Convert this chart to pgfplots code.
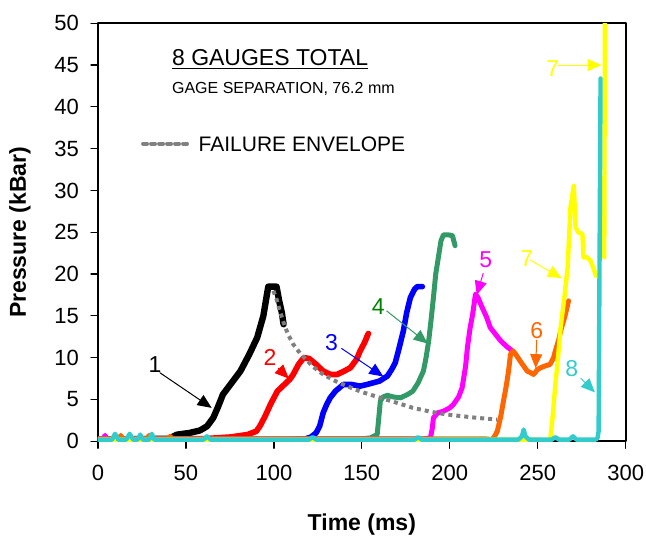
\documentclass[border=0pt]{standalone}
\usepackage{fontspec}
\setmainfont{Liberation Sans}
\usepackage{pgfplots}
\pgfplotsset{compat=1.18}
\usetikzlibrary{arrows.meta}

\definecolor{gR}{RGB}{255,0,0}
\definecolor{gB}{RGB}{0,0,255}
\definecolor{gG}{RGB}{51,153,102}
\definecolor{gGt}{RGB}{0,128,0}
\definecolor{gM}{RGB}{255,0,255}
\definecolor{gO}{RGB}{255,102,0}
\definecolor{gY}{RGB}{255,255,0}
\definecolor{gC}{RGB}{51,204,204}
\definecolor{gGrey}{RGB}{128,128,128}

\begin{document}
\begin{tikzpicture}
\begin{axis}[
    scale only axis,
    width=263.85pt, height=209pt,
    xmin=0, xmax=300, ymin=0, ymax=50,
    xtick={0,50,...,300}, ytick={0,5,...,50},
    tick align=outside, major tick length=3.5pt,
    xtick pos=left, ytick pos=left,
    axis line style={line width=1.2pt},
    every tick/.style={black, line width=0.6pt},
    /pgf/number format/assume math mode=true,
    ticklabel style={font=\fontsize{11}{13}\selectfont},
    xticklabel style={yshift=-5pt},
    yticklabel style={xshift=-2.5pt},
    xlabel={\textbf{Time (ms)}},
    ylabel={\textbf{Pressure (kBar)}},
    label style={font=\fontsize{11.5}{13}\selectfont},
    xlabel style={at={(axis description cs:0.5,-0.2)}, anchor=center},
    ylabel style={at={(axis description cs:-0.148,0.5)}, anchor=center},
    line join=round, line cap=round,
]
% gauge 1
\addplot[black, line width=3.2pt] coordinates {
 (0,0.2)(40,0.3)(45,0.8)(52,1.0)(58,1.3)(62,1.8)(65.5,2.8)(68,4)(71,5.6)(76,7)
 (81,8.4)(86,10.4)(90.5,12.4)(94,15)(96.8,18.5)(101.5,18.5)(103,16.8)(104.5,15.4)(105.5,14)};
% gauge 2
\addplot[gR, line width=2.9pt] coordinates {
 (0,0.2)(60,0.3)(75,0.5)(85,0.8)(90,1.2)(92,1.8)(95,3)(98,4.4)(102,6)(106,6.8)
 (109,7.4)(111,8)(114,9.2)(117,10)(120,9.9)(124,9.2)(128,8.4)(132,8)(136,8)(140,8.4)
 (143.5,8.8)(147,9.8)(149,10.8)(151.5,11.8)(153.7,12.9)};
% gauge 3
\addplot[gB, line width=2.8pt] coordinates {
 (0,0.2)(110,0.2)(118,0.3)(121,0.5)(124,1)(126,1.8)(128,3.4)(130,4.4)(132,5.2)(135,6)
 (139.5,6.8)(144,6.8)(149,6.6)(153,6.8)(156.5,7)(160,7.2)(164.5,7.8)(167,8.6)(169,9.4)
 (171,11)(173.6,13.2)(175.5,15.4)(177.6,17.2)(180,18.2)(181.5,18.5)(184.4,18.5)};
% gauge 4
\addplot[gG, line width=2.5pt] coordinates {
 (0,0.2)(150,0.3)(154.8,0.4)(158.7,0.8)(159.5,2.5)(160.5,4.8)(162,5.3)(164.5,5.5)
 (168,5.3)(172,5.2)(176,5.6)(179,6)(182,7)(185,8.4)(186.5,10)(188,12)(189.5,14.8)
 (190.7,17.2)(192,20)(193.5,22)(195,24)(196.4,24.7)(199,24.7)(201.5,24.6)(203,23.4)};
% gauge 5
\addplot[gM, line width=2.5pt] coordinates {
 (0,0.3)(3,0.3)(4,0.7)(5,0.3)(185,0.3)(189,0.4)(190,1.5)(190.7,2.8)(193,3.4)(196.4,3.6)
 (200,4)(202,4.4)(205,5.3)(207,6.4)(209,9)(210,11.2)(211.5,13.5)(213,15.2)(214.6,17.6)
 (216,17.2)(218,16.2)(221,14.8)(223,13.6)(226,12.8)(229,12)(232,11.4)(235.6,10.8)};
% gauge 6
\addplot[gO, line width=2.5pt] coordinates {
 (0,0.3)(12,0.3)(13,0.7)(14,0.3)(28,0.3)(29,0.7)(30,0.3)(40,0.3)(41,0.6)(42,0.3)
 (220,0.3)(224,0.2)(225.5,0.6)(227,1.2)(229,3)(230.5,4.8)(232,6.5)(233.4,8.4)(234.5,10.4)
 (236,10.8)(237.5,10.4)(240,9.6)(242,9)(244,8.4)(246,8.2)(247.6,8)(250,8.6)(251.6,8.8)
 (254,9)(257,9.2)(259,10)(260,10.8)(262,12.2)(263,13.2)(265.5,15)(267.5,16.8)};
% gauge 7
\addplot[gY, line width=2.2pt] coordinates {
 (0,0.2)(250,0.2)(257,0)(258.5,3)(260,6.8)(261.5,10)(263,13.6)(265,17)(267,20.8)
 (268.6,28)(270.5,30.6)(271.5,25.6)(273,25)(275.4,24.8)(276,22)(278,22)(280,21.6)
 (282,20.5)(283,19.8)};
\addplot[gY, line width=2.2pt] coordinates {(287.8,22)(288.2,55)};
% gauge 8
\addplot[gC, line width=2.2pt] coordinates {
 (0,0.2)(8,0.2)(9.7,0.9)(11.5,0.2)(16,0.2)(18,0.9)(20,0.2)(22.5,0.2)(24,0.8)(25.5,0.2)
 (29,0.2)(30.6,0.9)(32,0.2)(60,0.2)(62,0.6)(64,0.2)(120,0.2)(122,0.5)(124,0.2)
 (180,0.2)(182,0.5)(184,0.2)(239,0.2)(241,0.6)(242,1.4)(243,0.6)(245,0.2)
 (258,0.2)(260,0.5)(262,0.2)(268,0.2)(270,0.6)(272,0.2)(283,0.2)(284,0.4)(284.6,1.2)
 (285.7,43.4)};
% failure envelope
\addplot[gGrey, line width=2pt, dash pattern=on 2pt off 2pt, line cap=butt] coordinates {
 (99.7,18)(101.5,17)(103.5,15.5)(105.5,14.2)(108,12.8)(111,11.6)(115,10.5)(119,9.6)
 (123,8.8)(128,8)(135,7.2)(141.5,6.6)(150,5.9)(160.5,5.2)(170,4.6)(179,4)(190,3.5)
 (198.6,3.2)(207,3)(215.7,2.8)(227,2.6)};

% annotations
\tikzset{lab/.style={font=\fontsize{11.5}{13}\selectfont},
         arr/.style={line width=0.5pt, -{Triangle[length=7pt,width=6pt]}}}
\node[lab, text=black] at (axis cs:32.4,9.15) {1};
\draw[arr, black] (axis cs:35.2,8.2) -- (axis cs:64.6,4.0);
\node[lab, text=gR] at (axis cs:97.8,10) {2};
\draw[arr, gR] (axis cs:102.5,8.75) -- (axis cs:108.5,7.5);
\node[lab, text=gB] at (axis cs:132.8,11.75) {3};
\draw[arr, gB] (axis cs:138.5,11.1) -- (axis cs:162.2,7.75);
\node[lab, text=gGt] at (axis cs:159.4,16.1) {4};
\draw[arr, gG] (axis cs:164.1,15.6) -- (axis cs:187.4,11.7);
\node[lab, text=gM] at (axis cs:220.4,21.7) {5};
\draw[arr, gM] (axis cs:219,20.1) -- (axis cs:215.3,17.5);
\node[lab, text=gO] at (axis cs:249.4,13.3) {6};
\draw[arr, gO] (axis cs:249.4,12.1) -- (axis cs:248.8,8.75);
\node[lab, text=gY] at (axis cs:243.7,21.9) {7};
\draw[arr, gY] (axis cs:245.6,21.7) -- (axis cs:263.6,19.5);
\node[lab, text=gY] at (axis cs:258.5,44.6) {7};
\draw[arr, gY] (axis cs:261.7,45) -- (axis cs:286.3,45);
\node[lab, text=gC] at (axis cs:269.3,8.75) {8};
\draw[arr, gC] (axis cs:274.4,7.55) -- (axis cs:282.5,5.85);

\node[anchor=base west, inner sep=0pt, font=\fontsize{11.5}{13}\selectfont]
  at (axis cs:41.9,45.0) {\underline{8 GAUGES TOTAL}};
\node[anchor=base west, inner sep=0pt, font=\fontsize{8}{10}\selectfont]
  at (axis cs:41.9,41.6) {GAGE SEPARATION, 76.2 mm};
\draw[gGrey, line width=2pt, dash pattern=on 2pt off 2pt] (axis cs:25.6,35.6) -- (axis cs:52.3,35.6);
\node[anchor=base west, inner sep=0pt, font=\fontsize{10.5}{12}\selectfont]
  at (axis cs:57.0,34.7) {FAILURE ENVELOPE};
\end{axis}
\pgfresetboundingbox
\path (current axis.south west) +(-49pt,-48.75pt) (current axis.north east) +(10.15pt,11.65pt);
\end{tikzpicture}
\end{document}
